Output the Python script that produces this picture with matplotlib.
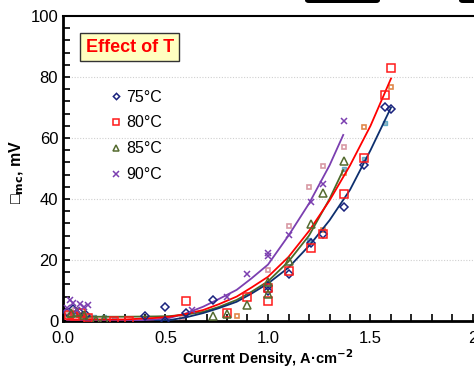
import matplotlib
matplotlib.use("Agg")
import matplotlib.pyplot as plt
from matplotlib.patches import FancyBboxPatch
from matplotlib.ticker import MultipleLocator

plt.rcParams['font.family'] = ['Liberation Sans', 'DejaVu Sans']

# ---- data ----
series_labels = ["75°C", "80°C", "85°C", "90°C"]

x75 = [0.02, 0.05, 0.08, 0.11, 0.40, 0.50, 0.50, 0.60, 0.73, 1.00, 1.00, 1.10, 1.21, 1.27, 1.37, 1.47, 1.57, 1.60]
y75 = [3.0, 4.0, 3.0, 2.0, 1.7, 4.6, 0.0, 2.6, 6.9, 10.0, 11.5, 15.4, 25.6, 28.5, 37.4, 51.0, 70.0, 69.5]

x80 = [0.03, 0.06, 0.09, 0.12, 0.25, 0.32, 0.60, 0.80, 0.90, 1.00, 1.00, 1.10, 1.21, 1.27, 1.37, 1.47, 1.57, 1.60]
y80 = [2.0, 1.5, 2.5, 1.0, 0.0, 0.0, 6.5, 2.6, 8.0, 10.8, 6.5, 16.4, 24.0, 28.5, 41.6, 53.4, 74.0, 83.0]

x85 = [0.04, 0.07, 0.10, 0.16, 0.20, 0.73, 0.80, 0.90, 1.00, 1.00, 1.10, 1.21, 1.27, 1.37]
y85 = [2.5, 3.0, 2.0, 0.3, 0.5, 1.6, 2.3, 5.2, 8.9, 12.8, 19.7, 31.8, 42.0, 52.5]

x90 = [0.018, 0.034, 0.05, 0.067, 0.083, 0.10, 0.123, 0.63, 0.80, 0.90, 1.00, 1.00, 1.10, 1.21, 1.27, 1.37]
y90 = [4.3, 6.9, 5.9, 3.6, 5.6, 4.7, 5.2, 3.6, 7.9, 15.4, 21.3, 22.3, 28.2, 39.0, 44.9, 65.6]

# faint replicate points
xr90 = [0.03, 0.06, 0.09, 0.58, 1.00, 1.10, 1.20, 1.27, 1.37]
yr90 = [2.5, 3.5, 2.0, 1.0, 16.7, 31.0, 44.0, 50.8, 57.0]
xr80 = [0.04, 0.08, 0.12, 0.85, 1.27, 1.37, 1.47, 1.60]
yr80 = [1.5, 2.0, 1.0, 1.5, 30.0, 48.5, 63.6, 76.7]
xr75 = [0.05, 0.10, 0.15, 0.20, 0.25, 1.00, 1.20, 1.37, 1.47, 1.57]
yr75 = [2.5, 2.0, 1.2, 1.2, 0.8, 12.0, 26.5, 50.0, 53.0, 65.0]

# fitted curves
fx75 = [0.45, 0.52, 0.60, 0.684, 0.76, 0.847, 0.92, 1.00, 1.10, 1.205, 1.30, 1.40, 1.50, 1.60]
fy75 = [0.0, 0.3, 1.2, 2.6, 4.2, 6.3, 9.0, 12.3, 17.5, 25.0, 33.0, 43.0, 56.0, 70.0]
fx80 = [0.02, 0.30, 0.45, 0.52, 0.60, 0.684, 0.76, 0.847, 0.92, 1.00, 1.10, 1.20, 1.30, 1.40, 1.50, 1.60]
fy80 = [0.5, 0.5, 1.0, 1.4, 2.3, 3.6, 5.5, 8.0, 11.0, 14.5, 21.0, 29.5, 39.5, 51.0, 64.0, 79.5]
fx85 = [0.02, 0.30, 0.45, 0.52, 0.60, 0.684, 0.76, 0.847, 0.92, 1.00, 1.10, 1.20, 1.30, 1.367]
fy85 = [1.4, 1.4, 1.5, 1.6, 2.1, 3.0, 4.6, 6.9, 9.6, 13.0, 19.5, 28.0, 40.0, 49.5]
fx90 = [0.02, 0.30, 0.45, 0.52, 0.60, 0.684, 0.76, 0.847, 0.92, 1.00, 1.10, 1.20, 1.30, 1.367]
fy90 = [0.0, 0.0, 0.5, 1.0, 2.5, 4.7, 7.2, 10.2, 14.0, 18.5, 28.0, 38.5, 51.0, 61.0]

xticks = [0.0, 0.5, 1.0, 1.5, 2.0]
xtick_labels = ["0.0", "0.5", "1.0", "1.5", "2"]
yticks = [0, 20, 40, 60, 80, 100]

c75, c80, c85, c90 = "#1a237e", "#ff1a1a", "#556b2f", "#7b3fb0"
c75l, c80l, c85l = "#0d2f6e", "#ff0000", "#4b6a2a"

fig = plt.figure(figsize=(4.74, 3.70), dpi=100)
ax = fig.add_axes([63/474, 1-321/370, 410/474, 305/370])

for y in [20, 40, 60, 80]:
    ax.axhline(y, color="#d0d0d0", lw=0.8, ls=(0, (1, 1.5)), zorder=0)

# faint replicate points
ax.plot(xr90, yr90, ls="none", marker="s", ms=3, mfc="none", mec="#d89aa4", mew=1.2, zorder=2)
ax.plot(xr80, yr80, ls="none", marker="s", ms=3, mfc="none", mec="#e0884a", mew=1.2, zorder=2)
ax.plot(xr75, yr75, ls="none", marker="s", ms=3, mfc="#7fa8b8", mec="#4aa0c0", mew=1.0, alpha=0.8, zorder=2)

# fit lines
ax.plot(fx90, fy90, color=c90, lw=1.3, zorder=3)
ax.plot(fx85, fy85, color=c85l, lw=1.3, zorder=3)
ax.plot(fx80, fy80, color=c80l, lw=1.3, zorder=3)
ax.plot(fx75, fy75, color=c75l, lw=1.3, zorder=3)

h75, = ax.plot(x75, y75, ls="none", marker="D", ms=4, mfc="none", mec=c75, mew=1.1, zorder=4)
h80, = ax.plot(x80, y80, ls="none", marker="s", ms=6, mfc="none", mec=c80, mew=1.1, zorder=4)
h85, = ax.plot(x85, y85, ls="none", marker="^", ms=6, mfc="none", mec=c85, mew=1.1, zorder=4)
h90, = ax.plot(x90, y90, ls="none", marker="x", ms=5, color=c90, mew=1.1, zorder=4)

ax.set_xlim(0, 2)
ax.set_ylim(0, 100)
ax.set_xticks(xticks)
ax.set_xticklabels(xtick_labels)
ax.set_yticks(yticks)
ax.xaxis.set_minor_locator(MultipleLocator(0.1))
ax.yaxis.set_minor_locator(MultipleLocator(4))
ax.tick_params(which="both", direction="in", labelsize=12, width=1.2)
ax.tick_params(which="major", length=5)
ax.tick_params(which="minor", length=5)
ax.tick_params(axis="x", pad=7)
ax.spines["left"].set_linewidth(2)
ax.spines["bottom"].set_linewidth(2)
ax.spines["top"].set_linewidth(1.5)
ax.spines["right"].set_visible(False)

ax.set_xlabel("Current Density, A·cm$^{\\mathbf{-2}}$", fontsize=10.5, fontweight="bold", labelpad=1)
ax.set_ylabel("□$_{\\mathbf{mc}}$, mV", fontsize=11.5, fontweight="bold", labelpad=2)
ax.yaxis.set_label_coords(-0.09, 0.49)

ax.text(0.163, 0.898, "Effect of T", transform=ax.transAxes, ha="center", va="center",
        color="#ff0000", fontsize=13, fontweight="bold",
        bbox=dict(boxstyle="square,pad=0.3", fc="#ffffc0", ec="#333333", lw=1))

leg = ax.legend([h75, h80, h85, h90], series_labels, loc="upper left",
                bbox_to_anchor=(0.095, 0.79), frameon=False, fontsize=11.5,
                handlelength=0.6, handletextpad=0.3, labelspacing=0.68,
                markerscale=0.8, borderaxespad=0.2)

# cropped black shapes at top edge
for (x0, w) in [(305, 75), (459, 30)]:
    fig.patches.append(FancyBboxPatch((x0/474, 1.0 - 3/370), w/474, 8/370,
                                      boxstyle="round,pad=0,rounding_size=0.008",
                                      transform=fig.transFigure, fc="black", ec="none"))

fig.savefig("out.png", dpi=100)
